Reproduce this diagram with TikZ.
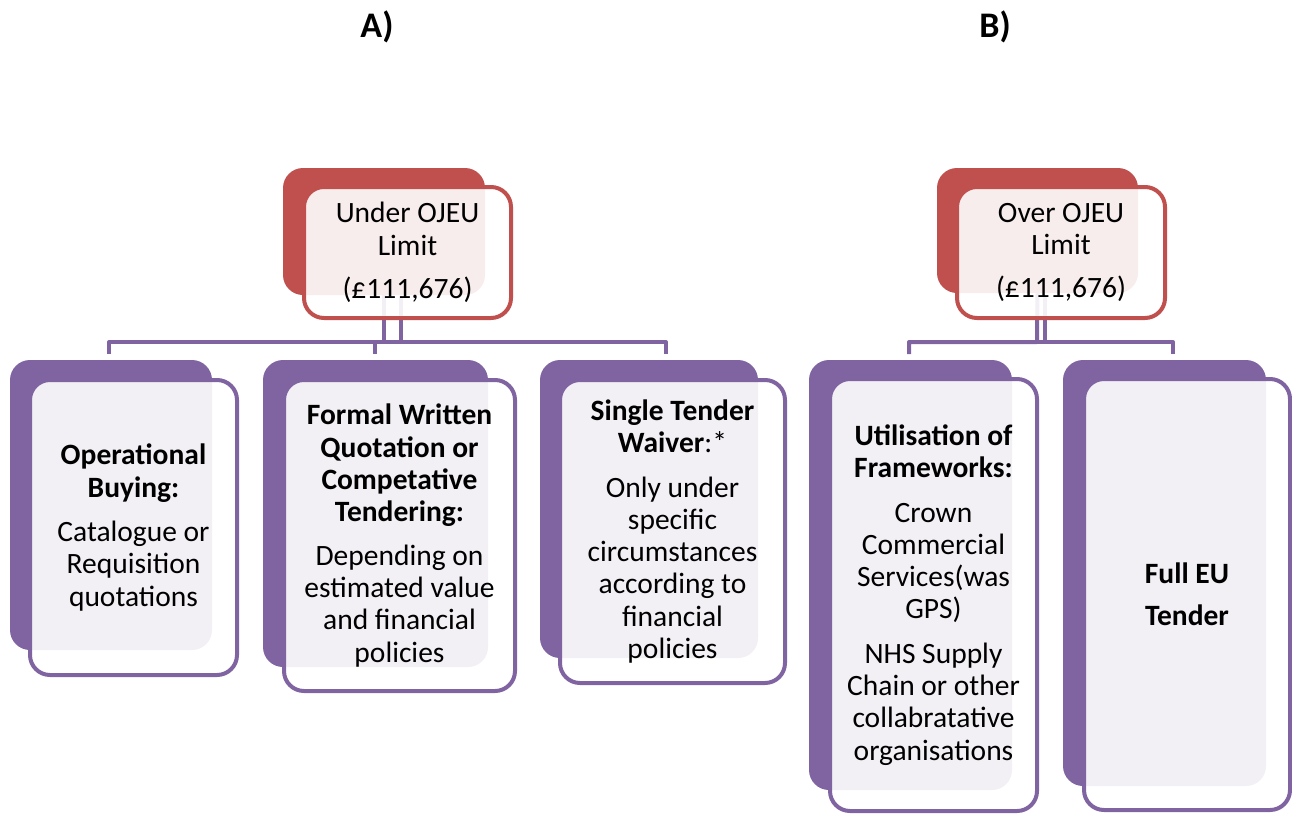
\documentclass[tikz,border=0pt]{standalone}
\usepackage{fontspec}
\setmainfont{Carlito}
\pgfdeclarelayer{bg}
\pgfsetlayers{bg,main}
\definecolor{purp}{HTML}{8064A2}
\definecolor{redd}{HTML}{C0504D}
\newcommand{\hd}[1]{\textbf{#1}}
\begin{document}
\begin{tikzpicture}[x=1pt,y=-1pt,
  backbox/.style={draw=none, fill=#1, rounded corners=20pt, inner sep=0pt, outer sep=0pt},
  frontbox/.style={draw=#1, line width=4pt, fill=white, fill opacity=0.9, rounded corners=20pt, inner sep=0pt, outer sep=0pt},
  txt/.style={align=center, inner sep=0pt, font=\fontsize{29.5}{32.3}\selectfont},
  ttl/.style={inner sep=0pt, font=\fontsize{36}{40}\selectfont\bfseries},
  conn/.style={draw=purp, line width=4pt, line join=round}]
\useasboundingbox (0,0) rectangle (1292,814);

% headings
\node[ttl] (tA) at (377,27) {A)};
\node[ttl] (tB) at (995,27) {B)};

% parent A
\node[backbox=redd, minimum width=202pt, minimum height=127pt] (pAb) at (384,231.5) {};
\node[frontbox=redd, minimum width=207pt, minimum height=131pt] (pAf) at (407.5,252.5) {};
\node[txt] (pAt) at (pAf.center) {Under OJEU\\Limit\\[11pt](£111,676)};

% parent B
\node[backbox=redd, minimum width=201pt, minimum height=125pt] (pBb) at (1037.5,230.5) {};
\node[frontbox=redd, minimum width=208pt, minimum height=131pt] (pBf) at (1061,252.5) {};
\node[txt] (pBt) at (pBf.center) {Over OJEU\\Limit\\[11pt](£111,676)};

% children of A
\node[backbox=purp, minimum width=202pt, minimum height=290pt] (a1b) at (111,505) {};
\node[frontbox=purp, minimum width=207pt, minimum height=295pt] (a1f) at (133.5,527.5) {};
\node[txt] (a1t) at (a1f.center) {\hd{Operational}\\\hd{Buying:}\\[12pt]Catalogue or\\Requisition\\quotations};

\node[backbox=purp, minimum width=225pt, minimum height=307pt] (a2b) at (375.5,513.5) {};
\node[frontbox=purp, minimum width=231pt, minimum height=311pt] (a2f) at (399.5,535.5) {};
\node[txt] (a2t) at (a2f.center) {\hd{Formal Written}\\\hd{Quotation or}\\\hd{Competative}\\\hd{Tendering:}\\[11pt]Depending on\\estimated value\\and financial\\policies};

\node[backbox=purp, minimum width=218pt, minimum height=298pt] (a3b) at (649,509) {};
\node[frontbox=purp, minimum width=225pt, minimum height=303pt] (a3f) at (672.5,531.5) {};
\node[txt] (a3t) at (a3f.center) {\hd{Single Tender}\\\hd{Waiver}:*\\[12pt]Only under\\specific\\circumstances\\according to\\financial\\policies};

% children of B
\node[backbox=purp, minimum width=203pt, minimum height=430pt] (b1b) at (910.5,575) {};
\node[frontbox=purp, minimum width=207pt, minimum height=432pt] (b1f) at (933.5,595) {};
\node[txt] (b1t) at (b1f.center) {\hd{Utilisation of}\\\hd{Frameworks:}\\[12pt]Crown\\Commercial\\Services(was\\GPS)\\[12pt]NHS Supply\\Chain or other\\collabratative\\organisations};

\node[backbox=purp, minimum width=203pt, minimum height=426pt] (b2b) at (1164.5,573) {};
\node[frontbox=purp, minimum width=206pt, minimum height=431pt] (b2f) at (1187,594.5) {};
\node[txt] (b2t) at (b2f.center) {\hd{Full EU}\\[10pt]\hd{Tender}};

% junctions and stub ends of the connectors
\coordinate (jA) at (384,342);
\coordinate (jA2) at (401,342);
\coordinate (uA2) at (401,298);
\coordinate (a1s) at (109,354);
\coordinate (a2s) at (375,354);
\coordinate (a3s) at (666,354);
\coordinate (jB) at (1037,342);
\coordinate (jB2) at (1045,342);
\coordinate (uB2) at (1045,296);
\coordinate (b1s) at (909,354);
\coordinate (b2s) at (1173,354);

\begin{pgfonlayer}{bg}
  \draw[conn] (pAb.south) -- (jA) -| (a1s);
  \draw[conn] (jA) -| (a2s);
  \draw[conn] (jA) -| (a3s);
  \draw[conn] (uA2) -- (jA2);
  \draw[conn] (pBb.south) -- (jB) -| (b1s);
  \draw[conn] (jB) -| (b2s);
  \draw[conn] (uB2) -- (jB2);
\end{pgfonlayer}
\end{tikzpicture}
\end{document}
